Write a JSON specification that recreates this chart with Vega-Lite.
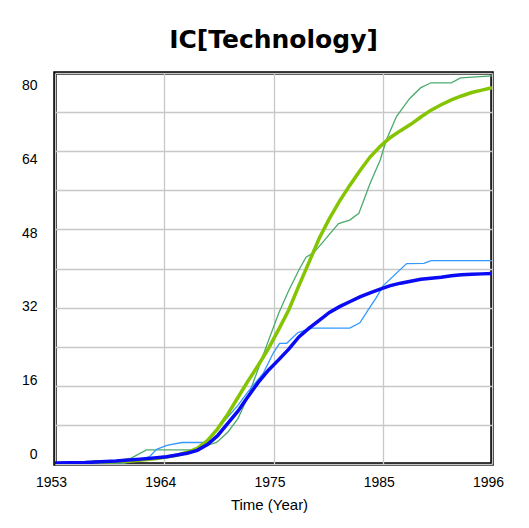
{
  "$schema": "https://vega.github.io/schema/vega-lite/v6.json",
  "width": 437,
  "height": 391,
  "autosize": "none",
  "padding": {"left": 55, "top": 73, "right": 37, "bottom": 64},
  "background": "white",
  "title": {
    "text": "IC[Technology]",
    "font": "DejaVu Sans",
    "fontSize": 25,
    "fontWeight": "bold",
    "color": "black",
    "anchor": "middle",
    "baseline": "alphabetic",
    "frame": "group",
    "offset": 0
  },
  "config": {
    "view": {"stroke": "black", "strokeWidth": 3.5},
    "axis": {
      "labelFont": "Liberation Sans",
      "labelFontSize": 14,
      "labelColor": "black",
      "titleFont": "Liberation Sans",
      "titleFontSize": 15,
      "titleFontWeight": "normal",
      "titleColor": "black",
      "domain": false,
      "ticks": false,
      "grid": true,
      "gridColor": "#C8C8C8",
      "gridWidth": 1.3,
      "gridOpacity": 1
    }
  },
  "data": {
    "values": [
      {"series": "thin green", "year": 1953, "v": 0},
      {"series": "thin green", "year": 1956.5, "v": 0},
      {"series": "thin green", "year": 1956.8, "v": 0.7},
      {"series": "thin green", "year": 1959, "v": 0.7},
      {"series": "thin green", "year": 1960.5, "v": 1.2},
      {"series": "thin green", "year": 1962, "v": 2.9},
      {"series": "thin green", "year": 1966.5, "v": 2.9},
      {"series": "thin green", "year": 1968.9, "v": 4.4},
      {"series": "thin green", "year": 1970, "v": 6.5},
      {"series": "thin green", "year": 1971, "v": 9.3},
      {"series": "thin green", "year": 1972, "v": 13.8},
      {"series": "thin green", "year": 1973, "v": 19.5},
      {"series": "thin green", "year": 1974, "v": 25.2},
      {"series": "thin green", "year": 1975, "v": 30.8},
      {"series": "thin green", "year": 1976, "v": 35.5},
      {"series": "thin green", "year": 1977, "v": 39.7},
      {"series": "thin green", "year": 1977.7, "v": 42.3},
      {"series": "thin green", "year": 1978.5, "v": 43.3},
      {"series": "thin green", "year": 1979.4, "v": 45.5},
      {"series": "thin green", "year": 1980.9, "v": 49.2},
      {"series": "thin green", "year": 1982, "v": 49.9},
      {"series": "thin green", "year": 1982.9, "v": 51.3},
      {"series": "thin green", "year": 1984, "v": 57.4},
      {"series": "thin green", "year": 1985, "v": 62.2},
      {"series": "thin green", "year": 1985.6, "v": 66.3},
      {"series": "thin green", "year": 1986.6, "v": 71.1},
      {"series": "thin green", "year": 1987.9, "v": 74.8},
      {"series": "thin green", "year": 1989, "v": 77.0},
      {"series": "thin green", "year": 1990, "v": 78.0},
      {"series": "thin green", "year": 1992, "v": 78.0},
      {"series": "thin green", "year": 1992.9, "v": 79.0},
      {"series": "thin green", "year": 1996, "v": 79.4},

      {"series": "thin blue", "year": 1953, "v": 0},
      {"series": "thin blue", "year": 1959.5, "v": 0},
      {"series": "thin blue", "year": 1960, "v": 0.3},
      {"series": "thin blue", "year": 1961, "v": 0.8},
      {"series": "thin blue", "year": 1962.3, "v": 1.5},
      {"series": "thin blue", "year": 1963, "v": 3.0},
      {"series": "thin blue", "year": 1964, "v": 3.8},
      {"series": "thin blue", "year": 1965.5, "v": 4.4},
      {"series": "thin blue", "year": 1967.7, "v": 4.4},
      {"series": "thin blue", "year": 1968.9, "v": 7.0},
      {"series": "thin blue", "year": 1970, "v": 9.6},
      {"series": "thin blue", "year": 1971, "v": 12.0},
      {"series": "thin blue", "year": 1972, "v": 14.8},
      {"series": "thin blue", "year": 1973.5, "v": 18.6},
      {"series": "thin blue", "year": 1974.5, "v": 22.8},
      {"series": "thin blue", "year": 1975.1, "v": 24.7},
      {"series": "thin blue", "year": 1975.8, "v": 24.7},
      {"series": "thin blue", "year": 1976.9, "v": 26.9},
      {"series": "thin blue", "year": 1978.3, "v": 27.8},
      {"series": "thin blue", "year": 1982, "v": 27.8},
      {"series": "thin blue", "year": 1983, "v": 28.9},
      {"series": "thin blue", "year": 1983.8, "v": 31.5},
      {"series": "thin blue", "year": 1984.6, "v": 34.0},
      {"series": "thin blue", "year": 1985.3, "v": 36.5},
      {"series": "thin blue", "year": 1987.6, "v": 41.0},
      {"series": "thin blue", "year": 1989.3, "v": 41.05},
      {"series": "thin blue", "year": 1990, "v": 41.6},
      {"series": "thin blue", "year": 1996, "v": 41.6},

      {"series": "thick green", "year": 1953, "v": 0.1},
      {"series": "thick green", "year": 1960, "v": 0.5},
      {"series": "thick green", "year": 1963, "v": 1.1},
      {"series": "thick green", "year": 1965, "v": 1.8},
      {"series": "thick green", "year": 1966, "v": 2.4},
      {"series": "thick green", "year": 1967, "v": 3.2},
      {"series": "thick green", "year": 1968, "v": 4.8},
      {"series": "thick green", "year": 1969, "v": 7.2},
      {"series": "thick green", "year": 1970, "v": 10.2},
      {"series": "thick green", "year": 1971, "v": 13.6},
      {"series": "thick green", "year": 1972, "v": 17.0},
      {"series": "thick green", "year": 1973, "v": 20.2},
      {"series": "thick green", "year": 1974, "v": 23.6},
      {"series": "thick green", "year": 1975, "v": 27.5},
      {"series": "thick green", "year": 1976, "v": 31.5},
      {"series": "thick green", "year": 1977, "v": 36.5},
      {"series": "thick green", "year": 1978, "v": 41.3},
      {"series": "thick green", "year": 1979, "v": 46.2},
      {"series": "thick green", "year": 1980, "v": 50.2},
      {"series": "thick green", "year": 1981, "v": 53.8},
      {"series": "thick green", "year": 1982, "v": 57.0},
      {"series": "thick green", "year": 1983, "v": 60.0},
      {"series": "thick green", "year": 1984, "v": 62.8},
      {"series": "thick green", "year": 1985, "v": 65.0},
      {"series": "thick green", "year": 1986, "v": 66.8},
      {"series": "thick green", "year": 1987, "v": 68.2},
      {"series": "thick green", "year": 1988, "v": 69.5},
      {"series": "thick green", "year": 1989, "v": 71.0},
      {"series": "thick green", "year": 1990, "v": 72.4},
      {"series": "thick green", "year": 1991, "v": 73.5},
      {"series": "thick green", "year": 1992, "v": 74.5},
      {"series": "thick green", "year": 1993, "v": 75.3},
      {"series": "thick green", "year": 1994, "v": 76.0},
      {"series": "thick green", "year": 1995, "v": 76.5},
      {"series": "thick green", "year": 1996, "v": 77.0},

      {"series": "thick blue", "year": 1953, "v": 0.2},
      {"series": "thick blue", "year": 1956, "v": 0.3},
      {"series": "thick blue", "year": 1959, "v": 0.6},
      {"series": "thick blue", "year": 1962, "v": 1.1},
      {"series": "thick blue", "year": 1964, "v": 1.5},
      {"series": "thick blue", "year": 1966, "v": 2.2},
      {"series": "thick blue", "year": 1967, "v": 2.8},
      {"series": "thick blue", "year": 1968, "v": 4.0},
      {"series": "thick blue", "year": 1969, "v": 5.8},
      {"series": "thick blue", "year": 1970, "v": 8.3},
      {"series": "thick blue", "year": 1971, "v": 10.8},
      {"series": "thick blue", "year": 1972, "v": 13.8},
      {"series": "thick blue", "year": 1973, "v": 16.7},
      {"series": "thick blue", "year": 1974, "v": 19.2},
      {"series": "thick blue", "year": 1975, "v": 21.3},
      {"series": "thick blue", "year": 1976, "v": 23.5},
      {"series": "thick blue", "year": 1977, "v": 26.0},
      {"series": "thick blue", "year": 1978, "v": 27.8},
      {"series": "thick blue", "year": 1979, "v": 29.4},
      {"series": "thick blue", "year": 1980, "v": 31.0},
      {"series": "thick blue", "year": 1981, "v": 32.2},
      {"series": "thick blue", "year": 1982, "v": 33.2},
      {"series": "thick blue", "year": 1983, "v": 34.2},
      {"series": "thick blue", "year": 1984, "v": 35.0},
      {"series": "thick blue", "year": 1985, "v": 35.8},
      {"series": "thick blue", "year": 1986, "v": 36.5},
      {"series": "thick blue", "year": 1987, "v": 37.0},
      {"series": "thick blue", "year": 1988, "v": 37.4},
      {"series": "thick blue", "year": 1989, "v": 37.8},
      {"series": "thick blue", "year": 1990, "v": 38.0},
      {"series": "thick blue", "year": 1991, "v": 38.2},
      {"series": "thick blue", "year": 1992, "v": 38.5},
      {"series": "thick blue", "year": 1993, "v": 38.7},
      {"series": "thick blue", "year": 1994, "v": 38.8},
      {"series": "thick blue", "year": 1995, "v": 38.9},
      {"series": "thick blue", "year": 1996, "v": 39.0}
    ]
  },
  "encoding": {
    "x": {
      "field": "year",
      "type": "quantitative",
      "scale": {"domain": [1953, 1996], "nice": false, "zero": false},
      "axis": {
        "title": "Time (Year)",
        "values": [1953, 1963.75, 1974.5, 1985.25, 1996],
        "labelExpr": "format(round(datum.value), 'd')",
        "labelPadding": 11,
        "labelOffset": -4,
        "labelFlush": false,
        "labelOverlap": false,
        "titlePadding": 8,
        "titleX": 214
      }
    },
    "y": {
      "field": "v",
      "type": "quantitative",
      "scale": {"domain": [0, 80], "nice": false},
      "axis": {
        "title": null,
        "values": [0, 8, 16, 24, 32, 40, 48, 56, 64, 72, 80],
        "labelExpr": "datum.value % 16 == 0 ? format(datum.value, 'd') : ''",
        "labelPadding": 18,
        "labelOverlap": false,
        "labelFlush": false,
        "labelOffset": {"expr": "-10 + datum.value * 0.284"}
      }
    }
  },
  "layer": [
    {
      "transform": [{"filter": "datum.series == 'thin green'"}],
      "mark": {"type": "line", "color": "#4DAA6E", "strokeWidth": 1.3, "clip": true}
    },
    {
      "transform": [{"filter": "datum.series == 'thin blue'"}],
      "mark": {"type": "line", "color": "#3399FF", "strokeWidth": 1.3, "clip": true}
    },
    {
      "transform": [{"filter": "datum.series == 'thick green'"}],
      "mark": {"type": "line", "color": "#84C400", "strokeWidth": 3.5, "clip": true}
    },
    {
      "transform": [{"filter": "datum.series == 'thick blue'"}],
      "mark": {"type": "line", "color": "#0A0AF5", "strokeWidth": 3.5, "clip": true}
    }
  ]
}
